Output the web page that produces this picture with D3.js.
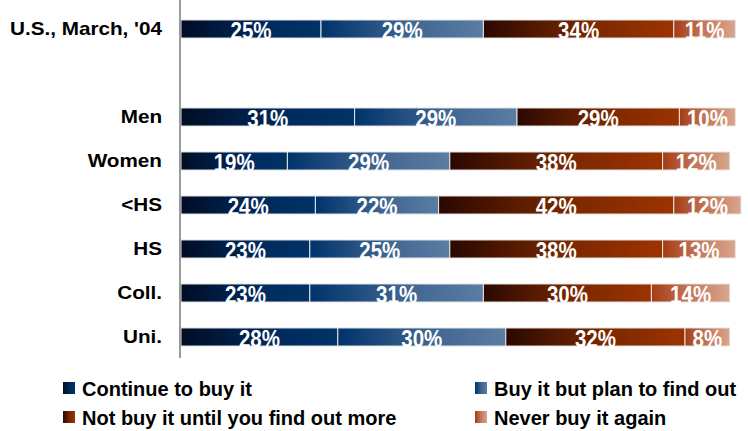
<!DOCTYPE html>
<html><head><meta charset="utf-8">
<script src="https://cdn.jsdelivr.net/npm/d3@7"></script>
<style>body{margin:0;background:#fff}svg{display:block}</style>
</head><body>
<script>
const categories = ["U.S., March, '04", " ", "Men", "Women", "<HS", "HS", "Coll.", "Uni."];
const seriesNames = ["Continue to buy it", "Buy it but plan to find out", "Not buy it until you find out more", "Never buy it again"];
const continueBuy = [25, null, 31, 19, 24, 23, 23, 28];
const buyPlan     = [29, null, 29, 29, 22, 25, 31, 30];
const notBuy      = [34, null, 29, 38, 42, 38, 30, 32];
const neverBuy    = [11, null, 10, 12, 12, 13, 14, 8];
const gradStops = [
  [["0%","#000d24"],["60%","#002a5e"],["100%","#003366"]],
  [["0%","#00336a"],["55%","#3f6592"],["100%","#5b7da2"]],
  [["0%","#2a0800"],["55%","#7a2800"],["100%","#9c3300"]],
  [["0%","#a43c14"],["50%","#c4785a"],["100%","#d8a68e"]]
];

const W = 748, H = 431;
const svg = d3.select("body").append("svg").attr("width", W).attr("height", H);
const defs = svg.append("defs");
gradStops.forEach((st, i) => {
  const g = defs.append("linearGradient").attr("id", "g" + i).attr("x1", "0").attr("x2", "1").attr("y1", "0").attr("y2", "0");
  st.forEach(s => g.append("stop").attr("offset", s[0]).attr("stop-color", s[1]));
});

const x = d3.scaleLinear().domain([0, 100]).range([181, 741]);
const y = d3.scaleBand().domain(categories).range([7, 359]).paddingInner(0.59).paddingOuter(0.295);

const rows = categories.map((c, i) => ({cat: c, vals: [continueBuy[i], buyPlan[i], notBuy[i], neverBuy[i]]}))
  .filter(r => r.vals[0] != null);

const stack = d3.stack().keys([0,1,2,3]).value((d, k) => d.vals[k]);
const series = stack(rows);

const font = "'Liberation Sans', Arial, sans-serif";

series.forEach((s, k) => {
  const g = svg.append("g");
  g.selectAll("rect").data(s).join("rect")
    .attr("x", d => x(d[0]))
    .attr("y", d => y(d.data.cat))
    .attr("width", d => x(d[1]) - x(d[0]))
    .attr("height", y.bandwidth())
    .attr("fill", `url(#g${k})`)
    .attr("stroke", "#e6e6e6").attr("stroke-width", 1);
  g.selectAll("text").data(s).join("text")
    .attr("transform", d => `translate(${(x(d[0]) + x(d[1])) / 2},${y(d.data.cat) + y.bandwidth() + 0.5}) scale(1,1.15)`)
    .attr("text-anchor", "middle")
    .attr("fill", "#fff")
    .attr("font-family", font).attr("font-weight", "bold").attr("font-size", 20.5)
    .text(d => d.data.vals[k] + "%");
});

// category axis
const axis = d3.axisLeft(y).tickSize(0).tickPadding(0);
const ag = svg.append("g").attr("transform", "translate(180,0)").call(axis);
ag.select(".domain").remove();
const sx = 1.15;
ag.selectAll(".tick text").attr("font-family", font).attr("font-weight", "bold")
  .attr("font-size", 18).attr("fill", "#000").attr("dy", "0.35em")
  .attr("x", -18 / sx).attr("transform", `scale(${sx},1)`);
svg.append("line").attr("x1", 180).attr("x2", 180).attr("y1", 0).attr("y2", 358)
  .attr("stroke", "#7a7a7a").attr("stroke-width", 1.5);

// legend
const legPos = [[63, 382], [475, 382], [63, 411], [475, 411]];
[0, 1, 2, 3].forEach((k, i) => {
  const [lx, ly] = legPos[i];
  svg.append("rect").attr("x", lx).attr("y", ly).attr("width", 12).attr("height", 12)
    .attr("fill", `url(#g${k})`);
  svg.append("text").attr("x", lx + 19).attr("y", ly + 14)
    .attr("font-family", font).attr("font-weight", "bold").attr("font-size", 20)
    .attr("fill", "#000").text(seriesNames[k]);
});
</script>
</body></html>
